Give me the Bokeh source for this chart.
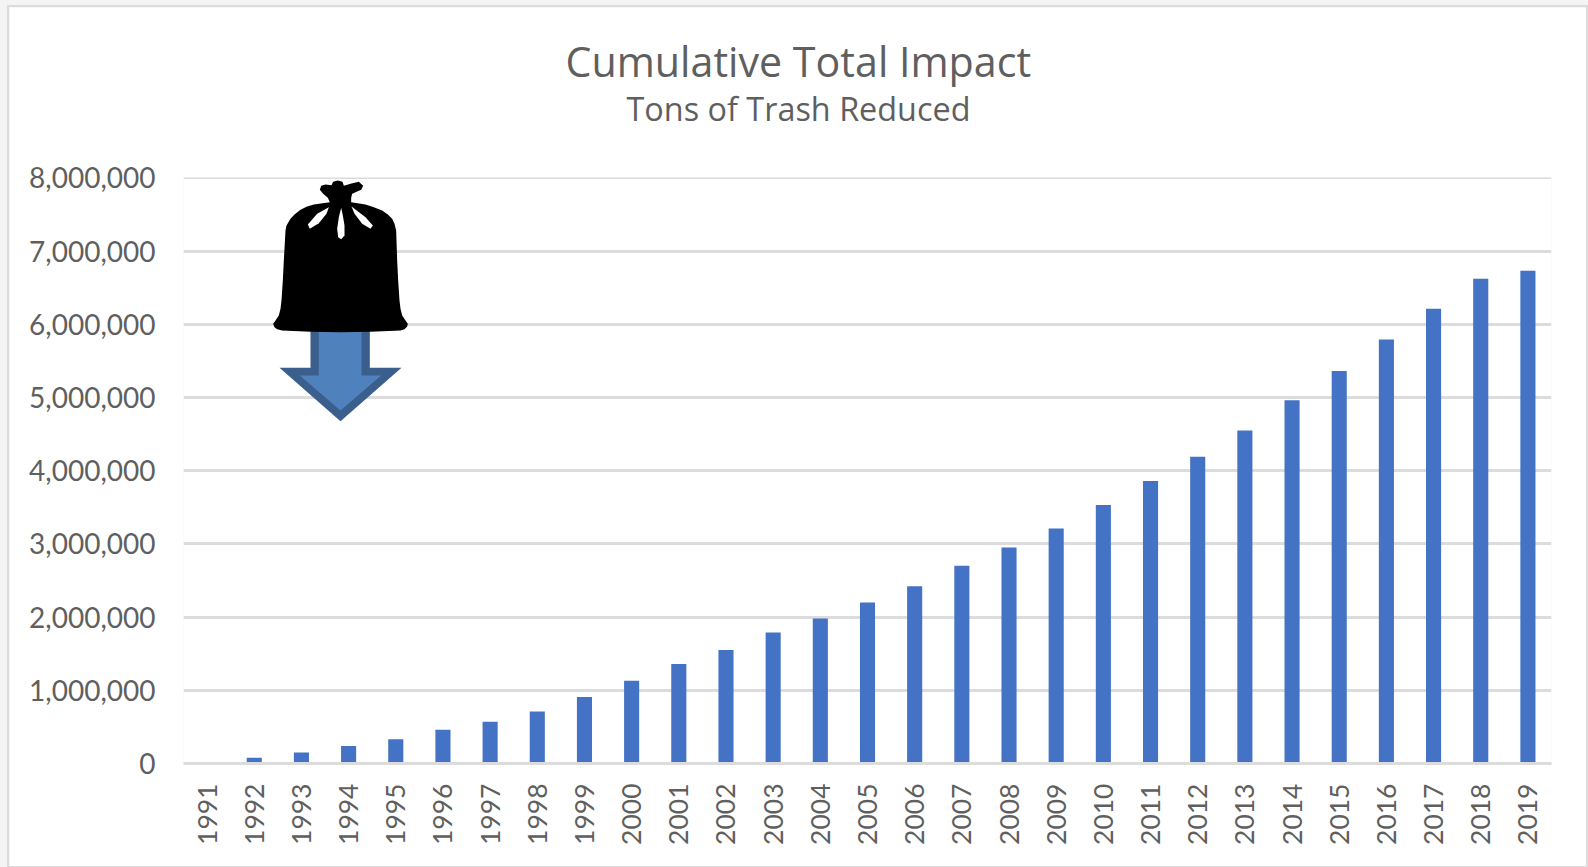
from bokeh.embed import file_html
from bokeh.resources import INLINE
from bokeh.plotting import figure
from bokeh.layouts import column
from bokeh.models import Range1d, FactorRange, Title, PolyAnnotation, NumeralTickFormatter, FixedTicker

# ---- data ----
years = [str(y) for y in range(1991, 2020)]
tons = [0, 80000, 150000, 240000, 330000, 460000, 570000, 710000, 910000, 1130000,
        1360000, 1550000, 1790000, 1980000, 2200000, 2420000, 2700000, 2950000, 3210000,
        3530000, 3860000, 4190000, 4550000, 4960000, 5360000, 5790000, 6210000, 6620000, 6730000]
y_ticks = [0, 1000000, 2000000, 3000000, 4000000, 5000000, 6000000, 7000000, 8000000]
title_text = "Cumulative Total Impact"
subtitle_text = "Tons of Trash Reduced"

FONT = "Lato"
TITLE_FONT = "Open Sans"
TEXT = "#5f5f5f"
GRID = "#dcdcdc"
OX, OY = 9, 7   # page position of the canvas, inside the frame

# the y range ends a hair above the top tick so that its grid line is drawn
p = figure(width=1577, height=859, x_range=FactorRange(factors=years, range_padding=0),
           y_range=Range1d(0, 8004000), output_backend="svg", toolbar_location=None,
           min_border_left=183 - OX, min_border_right=35, min_border_top=177 - OY, min_border_bottom=103,
           background_fill_color="white", border_fill_color="white", outline_line_color=None,
           margin=(OY, 0, 0, OX))

p.vbar(x=years, top=tons, width=0.32, color="#4472c4", line_color=None)

ax = p.xaxis[0]
ax.major_label_orientation = 1.5708
ax.major_label_text_font = FONT
ax.major_label_text_font_size = "26.5px"
ax.major_label_text_color = TEXT
ax.major_label_standoff = 14
ax.major_tick_line_color = None
ax.minor_tick_line_color = None
ax.axis_line_color = GRID
ax.axis_line_width = 3

ay = p.yaxis[0]
ay.ticker = FixedTicker(ticks=y_ticks)
ay.formatter = NumeralTickFormatter(format="0,0")
ay.major_label_text_font = FONT
ay.major_label_text_font_size = "28px"
ay.major_label_text_color = TEXT
ay.major_label_standoff = 22
ay.major_tick_line_color = None
ay.minor_tick_line_color = None
ay.axis_line_color = None

p.xgrid.grid_line_color = None
p.ygrid.grid_line_color = GRID
p.ygrid.grid_line_width = 3
p.ygrid.level = "underlay"

# ---- titles (left edges measured from the plot frame); the blank one holds the gap above the frame ----
p.add_layout(Title(text=" ", text_font=TITLE_FONT, text_font_size="37px", standoff=0), "above")
p.add_layout(Title(text=subtitle_text, text_font=TITLE_FONT, text_font_size="32.4px", text_font_style="normal",
                   text_color=TEXT, align="left", offset=443, standoff=-10), "above")
p.add_layout(Title(text=title_text, text_font=TITLE_FONT, text_font_size="41.2px", text_font_style="normal",
                   text_color=TEXT, align="left", offset=382, standoff=0), "above")


# ---- decoration: arrow and trash bag, outlines measured in page pixels ----
def poly(pts, fill):
    xs = [250 + a / 3 - OX for a, b in pts]
    ys = [160 + b / 3 - OY for a, b in pts]
    p.add_layout(PolyAnnotation(xs=xs, ys=ys, xs_units="canvas", ys_units="canvas",
                                fill_color=fill, fill_alpha=1, line_color=None))

poly([(180,505),(358,505),(358,622),(453,622),(270,782),(87,622),(180,622)], "#3b5f8c")
poly([(205,505),(333,505),(333,645),(392,645),(270,750),(148,645),(205,645)], "#4f81bd")
poly([(68,490),(72,500),(80,506),(95,510),(180,514),(270,515),(360,514),(450,510),(462,506),(470,498),(472,490),
      (465,480),(455,465),(450,445),(447,420),(443,360),(440,300),(437,210),(432,190),(425,175),(412,162),(395,150),
      (370,140),(345,132),(302,125),(302,112),(305,100),(332,88),(338,76),(325,64),(300,70),(280,76),(276,64),
      (262,60),(248,64),(243,74),(225,72),(212,76),(208,88),(218,100),(232,112),(238,125),(190,132),(168,139),
      (150,148),(132,162),(120,175),(108,195),(105,210),(100,300),(97,360),(93,420),(90,445),(85,465),(75,480)],
     "#000000")
poly([(235,140),(200,160),(172,192),(178,205),(205,188),(228,160)], "#ffffff")
poly([(272,142),(265,170),(260,205),(263,230),(272,236),(282,225),(282,195),(277,165)], "#ffffff")
poly([(303,138),(345,170),(367,195),(360,205),(335,190),(312,160)], "#ffffff")

# ---- page: pale surround and the thin grey frame ----
p.styles = {"outline": "2px solid #dcdcdc"}
page = column(p, styles={"background-color": "#f4f4f4"}, width=1588, height=867, sizing_mode="fixed")

open("out.html", "w").write(file_html(page, INLINE))
